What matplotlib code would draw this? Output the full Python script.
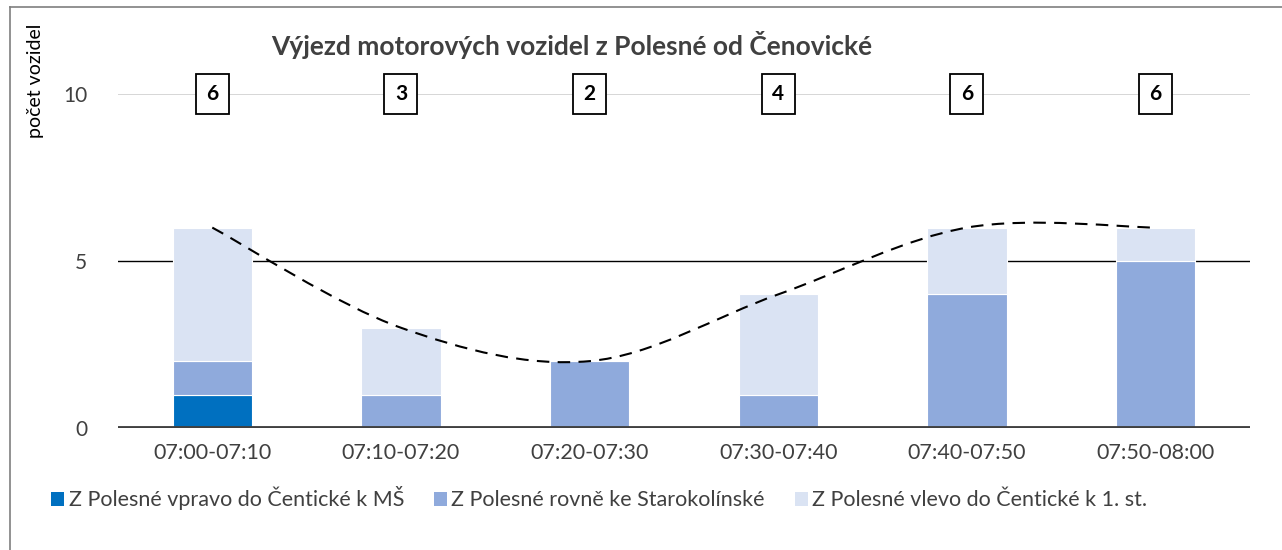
import matplotlib.pyplot as plt
import numpy as np
from matplotlib.lines import Line2D
from matplotlib.patches import Patch
from matplotlib.path import Path
from matplotlib.patches import PathPatch

plt.rcParams["font.family"] = ["Lato", "DejaVu Sans"]

intervals = ["07:00-07:10", "07:10-07:20", "07:20-07:30",
             "07:30-07:40", "07:40-07:50", "07:50-08:00"]
vpravo_ms = [1, 0, 0, 0, 0, 0]
rovne = [1, 1, 2, 1, 4, 5]
vlevo = [4, 2, 0, 3, 2, 1]
series_names = [
    "Z Polesné vpravo do Čentické k MŠ",
    "Z Polesné rovně ke Starokolínské",
    "Z Polesné vlevo do Čentické k 1. st.",
]
colors = ["#0070c0", "#8faadc", "#dae3f3"]

totals = np.array(vpravo_ms) + np.array(rovne) + np.array(vlevo)
x = np.arange(len(intervals))

fig = plt.figure(figsize=(12.82, 5.5), dpi=100)
ax = fig.add_axes([0.092, 0.222, 0.883, 0.607])

bottom = np.zeros(len(x))
for vals, col in zip([vpravo_ms, rovne, vlevo], colors):
    ax.bar(x, vals, bottom=bottom, width=0.42, color=col,
           edgecolor="white", linewidth=0.8, zorder=2)
    bottom += np.array(vals)

# smoothed dashed line through totals (Excel-style bezier)
pts = np.column_stack([x, totals]).astype(float)
verts = [tuple(pts[0])]
codes = [Path.MOVETO]
n = len(pts)
for i in range(n - 1):
    p0 = pts[i - 1] if i > 0 else pts[i]
    p1, p2 = pts[i], pts[i + 1]
    p3 = pts[i + 2] if i + 2 < n else pts[i + 1]
    c1 = p1 + (p2 - p0) / 6
    c2 = p2 - (p3 - p1) / 6
    verts += [tuple(c1), tuple(c2), tuple(p2)]
    codes += [Path.CURVE4] * 3
ax.add_patch(PathPatch(Path(verts, codes), fill=False, edgecolor="black",
                       linestyle=(0, (6, 4)), linewidth=1.5, zorder=4))

# total labels in boxes at top
for xi, t in zip(x, totals):
    ax.text(xi, 10, str(t), ha="center", va="center", fontsize=15,
            fontweight="bold", zorder=5,
            bbox=dict(boxstyle="square,pad=0.5", facecolor="white",
                      edgecolor="black", linewidth=1.3))

ax.set_xlim(-0.5, len(x) - 0.5)
ax.set_ylim(0, 10)
ax.set_yticks([0, 5, 10])
ax.axhline(10, color="#d0d0d0", linewidth=1.2, zorder=1)
ax.axhline(5, color="black", linewidth=1.0, zorder=1)
ax.axhline(0, color="#404040", linewidth=3.5, zorder=3)
for s in ax.spines.values():
    s.set_visible(False)
ax.tick_params(length=0)
ax.tick_params(axis="y", labelsize=15, colors="#404040", pad=22)
ax.set_xticks(x)
ax.set_xticklabels(intervals, fontsize=15.5, color="#404040")
ax.tick_params(axis="x", pad=11)

fig.text(0.028, 0.853, "počet vozidel", rotation=90, ha="center",
         va="center", fontsize=14, color="black")
fig.text(0.446, 0.918, "Výjezd motorových vozidel z Polesné od Čenovické",
         ha="center", va="center", fontsize=19, fontweight="bold",
         color="#404040")

handles = [Patch(facecolor=c, edgecolor="none", label=l)
           for c, l in zip(colors, series_names)]
fig.legend(handles=handles, loc="center left", bbox_to_anchor=(0.025, 0.094),
           ncol=3, frameon=False, fontsize=15.5, handlelength=0.6,
           handleheight=0.6, handletextpad=0.2, columnspacing=1.4,
           labelcolor="#404040")

# chart frame (left and top edges visible)
fig.add_artist(Line2D([0.008, 0.008], [0, 0.988], transform=fig.transFigure,
                      color="#7f7f7f", linewidth=1.2))
fig.add_artist(Line2D([0.008, 1], [0.988, 0.988], transform=fig.transFigure,
                      color="#7f7f7f", linewidth=1.2))

fig.savefig("out.png", dpi=100)
